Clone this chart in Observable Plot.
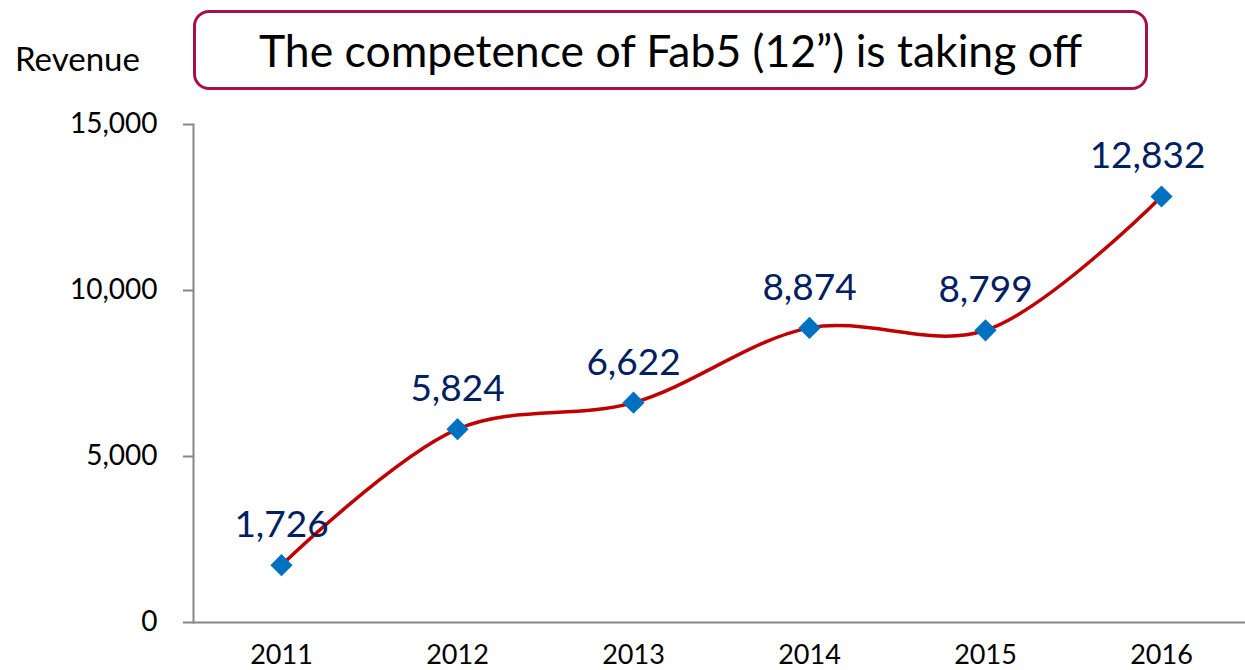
<!DOCTYPE html>
<html><head><meta charset="utf-8">
<script src="https://cdn.jsdelivr.net/npm/d3@7"></script>
<script src="https://cdn.jsdelivr.net/npm/@observablehq/plot@0.6"></script>
<style>
body{margin:0;background:#fff;font-family:Lato,"Open Sans",sans-serif;}
#wrap{position:relative;width:1245px;height:670px;overflow:hidden;}
#title{position:absolute;left:193px;top:10px;width:955px;height:80px;box-sizing:border-box;border:3px solid #A5104A;border-radius:16px;display:flex;align-items:center;justify-content:center;font-size:44.5px;color:#000;background:#fff;padding-bottom:2px;}
#ylab{position:absolute;left:15px;top:42px;font-size:33px;color:#000;line-height:1;}
</style></head><body>
<div id="wrap"><div id="chart"></div><div id="title">The competence of Fab5 (12”) is taking off</div><div id="ylab">Revenue</div></div>
<script>
const years = ["2011","2012","2013","2014","2015","2016"];
const revenue = [1726, 5824, 6622, 8874, 8799, 12832];
const yTicks = [0, 5000, 10000, 15000];

const data = years.map((year, i) => ({year, revenue: revenue[i]}));
const fmt = d3.format(",");
const inner = data.slice(0, -1);
const last = data.slice(-1);

const chart = Plot.plot({
  width: 1245, height: 670,
  marginLeft: 193, marginTop: 124, marginBottom: 48, marginRight: 0,
  style: {fontFamily: "Lato, 'Open Sans', sans-serif", background: "#fff", overflow: "visible"},
  x: {type: "point", domain: years, range: [193, 1249], padding: 0.5, label: null},
  y: {domain: [0, 15000], label: null},
  marks: [
    Plot.axisY({ticks: yTicks, tickFormat: fmt, tickSize: 10, tickPadding: 26, fontSize: 28, fill: "#000", stroke: "#868686", strokeWidth: 2, label: null}),
    Plot.axisX({tickSize: 0, tickPadding: 22, fontSize: 27, fill: "#000", label: null}),
    Plot.frame({anchor: "left", stroke: "#868686", strokeWidth: 2}),
    Plot.ruleY([0], {stroke: "#868686", strokeWidth: 2}),
    Plot.line(data, {x: "year", y: "revenue", curve: "catmull-rom", stroke: "#C00000", strokeWidth: 3.5}),
    Plot.dot(data, {x: "year", y: "revenue", symbol: "diamond2", r: 10, fill: "#0070C0", stroke: "none"}),
    Plot.text(inner, {x: "year", y: "revenue", text: d => fmt(d.revenue), dy: -28, lineAnchor: "bottom", fontSize: 37, fill: "#002060"}),
    Plot.text(last, {x: "year", y: "revenue", text: d => fmt(d.revenue), dy: -28, dx: -14, lineAnchor: "bottom", fontSize: 37, fill: "#002060"})
  ]
});
document.getElementById("chart").appendChild(chart);
</script>
</body></html>
